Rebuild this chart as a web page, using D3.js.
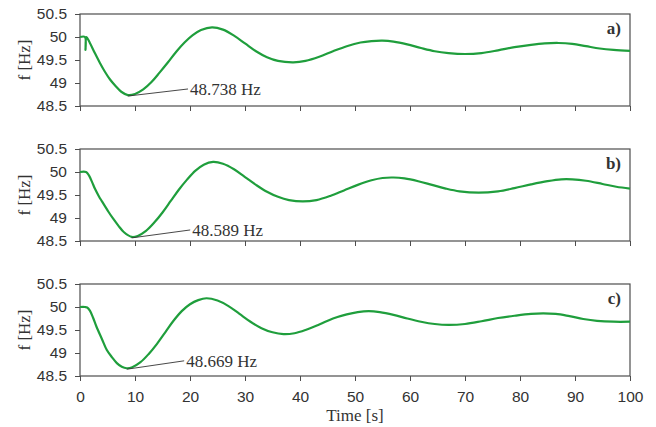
<!DOCTYPE html>
<html>
<head>
<meta charset="utf-8">
<script src="https://cdn.jsdelivr.net/npm/d3@7"></script>
<style>
  body { margin: 0; background: #fff; }
  .tick text { font-family: "Liberation Sans", Arial, sans-serif; font-size: 15.5px; fill: #333; }
  .lbl { font-family: "Liberation Serif", "Times New Roman", serif; font-size: 17px; fill: #333; }
</style>
</head>
<body>
<script>
// time [s] and frequency [Hz] for each case
const tA = [0, 0.9, 1.0, 1.15, 1.8, 2.7, 3.6, 4.5, 5.5, 6.5, 7.5, 8.7, 10, 11.5, 13, 14.5, 16, 17.5, 19, 20.5, 22, 24, 26, 28, 30, 32, 34, 36, 38.8, 41, 43.5, 46, 48.5, 51, 53, 55, 57, 59.5, 62, 64.5, 67, 70, 73, 76, 79, 82, 84.5, 87, 89.5, 92, 94.5, 97, 100];
const fA = [50, 50, 49.72, 50, 49.87, 49.65, 49.44, 49.25, 49.07, 48.93, 48.81, 48.738, 48.76, 48.86, 49.02, 49.23, 49.45, 49.68, 49.88, 50.04, 50.15, 50.21, 50.16, 50.03, 49.86, 49.69, 49.56, 49.48, 49.45, 49.48, 49.57, 49.69, 49.8, 49.88, 49.91, 49.92, 49.9, 49.84, 49.76, 49.69, 49.65, 49.63, 49.65, 49.71, 49.78, 49.83, 49.86, 49.87, 49.85, 49.8, 49.75, 49.72, 49.7];

const tB = [0, 1.1, 1.6, 2.2, 2.7, 3.4, 4, 5.2, 6, 7, 8, 9.4, 10.5, 12, 13.5, 15, 16.5, 18, 19.5, 21, 22.5, 24.2, 26, 28, 30, 32, 34, 36, 38, 40.5, 43, 45.5, 48, 50.5, 53, 55, 57, 59, 61.5, 64, 66.5, 69, 72.5, 76, 79, 82, 85, 87.5, 89.5, 92, 95, 97.5, 100];
const fB = [50, 50, 49.93, 49.78, 49.64, 49.48, 49.36, 49.13, 48.99, 48.83, 48.69, 48.589, 48.61, 48.72, 48.9, 49.12, 49.37, 49.62, 49.84, 50.03, 50.16, 50.22, 50.18, 50.06, 49.89, 49.72, 49.57, 49.46, 49.39, 49.36, 49.39, 49.48, 49.6, 49.72, 49.82, 49.87, 49.88, 49.86, 49.8, 49.72, 49.64, 49.58, 49.55, 49.58, 49.65, 49.73, 49.8, 49.84, 49.84, 49.81, 49.74, 49.68, 49.64];

const tC = [0, 0.9, 1.3, 1.8, 2.4, 3, 4, 4.85, 5.8, 6.7, 7.6, 8.5, 9.5, 11, 12.5, 14, 15.5, 17, 18.5, 20, 21.5, 23, 25, 27, 29, 31, 33, 35, 37, 39, 41, 43.5, 46, 48.5, 50.5, 52.5, 54.5, 57, 59.5, 62, 64.5, 67, 70, 73, 76, 79, 82, 84.2, 86.5, 89, 91.5, 94, 97, 100];
const fC = [50, 50, 49.99, 49.92, 49.76, 49.57, 49.3, 49.07, 48.91, 48.78, 48.7, 48.669, 48.69, 48.8, 48.98, 49.2, 49.45, 49.7, 49.91, 50.06, 50.15, 50.19, 50.14, 50.02, 49.85, 49.68, 49.54, 49.45, 49.41, 49.43, 49.5, 49.62, 49.75, 49.84, 49.89, 49.91, 49.89, 49.83, 49.75, 49.68, 49.63, 49.61, 49.63, 49.69, 49.76, 49.81, 49.85, 49.86, 49.85, 49.8, 49.74, 49.7, 49.68, 49.68];

const panelNames = ["a)", "b)", "c)"];
// minimum point [t, f] and text position [t, f]
const minPts = [[8.7, 48.738], [9.4, 48.589], [8.5, 48.669]];
const minText = [[20, 48.87], [20.4, 48.74], [19.3, 48.83]];
const minLabels = ["48.738 Hz", "48.589 Hz", "48.669 Hz"];

const xTicks = [0, 10, 20, 30, 40, 50, 60, 70, 80, 90, 100];
const yTicks = [48.5, 49, 49.5, 50, 50.5];

const w = 656;
const h = 427;
const m = { l: 80, r: 26 };
const tops = [14, 149, 284];
const ph = 92;
const green = "#1f9e3c";
const axisColor = "#4d4d4d";

const svg = d3.select("body").append("svg").attr("width", w).attr("height", h);

const xScale = d3.scaleLinear().domain([0, 100]).range([0, w - m.l - m.r]);
const yScale = d3.scaleLinear().domain([48.5, 50.5]).range([ph, 0]);

const series = [
  [tA, fA],
  [tB, fB],
  [tC, fC],
];

const line = d3
  .line()
  .x((d) => xScale(d[0]))
  .y((d) => yScale(d[1]))
  .curve(d3.curveCatmullRom.alpha(0.5));

series.forEach(([ts, fs], i) => {
  const g = svg.append("g").attr("transform", `translate(${m.l}, ${tops[i]})`);
  const pw = xScale.range()[1];

  // x-axis
  const xAG = g
    .append("g")
    .attr("transform", `translate(0, ${ph})`)
    .call(
      d3.axisBottom(xScale).tickValues(xTicks).tickSize(5).tickPadding(10)
        .tickFormat(i === 2 ? d3.format("d") : () => "")
    );
  // y-axis
  const yAG = g
    .append("g")
    .call(d3.axisLeft(yScale).tickValues(yTicks).tickSize(5).tickPadding(8).tickFormat((d) => `${d}`));
  [xAG, yAG].forEach((ag) => {
    ag.select(".domain").remove();
    ag.selectAll(".tick line").attr("stroke", axisColor);
  });

  // box
  g.append("rect")
    .attr("width", pw)
    .attr("height", ph)
    .attr("fill", "none")
    .attr("stroke", axisColor)
    .attr("stroke-width", 1.2);

  g.append("path")
    .datum(ts.map((t, k) => [t, fs[k]]))
    .attr("d", line)
    .attr("fill", "none")
    .attr("stroke", green)
    .attr("stroke-width", 2.2);

  // minimum annotation
  g.append("line")
    .attr("x1", xScale(minPts[i][0]))
    .attr("y1", yScale(minPts[i][1]) + 1)
    .attr("x2", xScale(minText[i][0]) - 2)
    .attr("y2", yScale(minText[i][1]))
    .attr("stroke", "#333")
    .attr("stroke-width", 0.9);
  g.append("text")
    .attr("class", "lbl")
    .attr("x", xScale(minText[i][0]))
    .attr("y", yScale(minText[i][1]))
    .attr("dy", "0.35em")
    .text(minLabels[i]);

  // panel letter
  g.append("text")
    .attr("class", "lbl")
    .attr("x", pw - 9)
    .attr("y", 20)
    .attr("text-anchor", "end")
    .attr("font-weight", "bold")
    .attr("font-size", 18)
    .attr("fill", "#111")
    .text(panelNames[i]);

  // y title
  svg
    .append("text")
    .attr("class", "lbl")
    .attr("transform", `rotate(-90)`)
    .attr("x", -(tops[i] + ph / 2))
    .attr("y", 30)
    .attr("text-anchor", "middle")
    .text("f [Hz]");
});

svg
  .append("text")
  .attr("class", "lbl")
  .attr("x", m.l + xScale(50))
  .attr("y", 421)
  .attr("text-anchor", "middle")
  .text("Time [s]");
</script>
</body>
</html>
